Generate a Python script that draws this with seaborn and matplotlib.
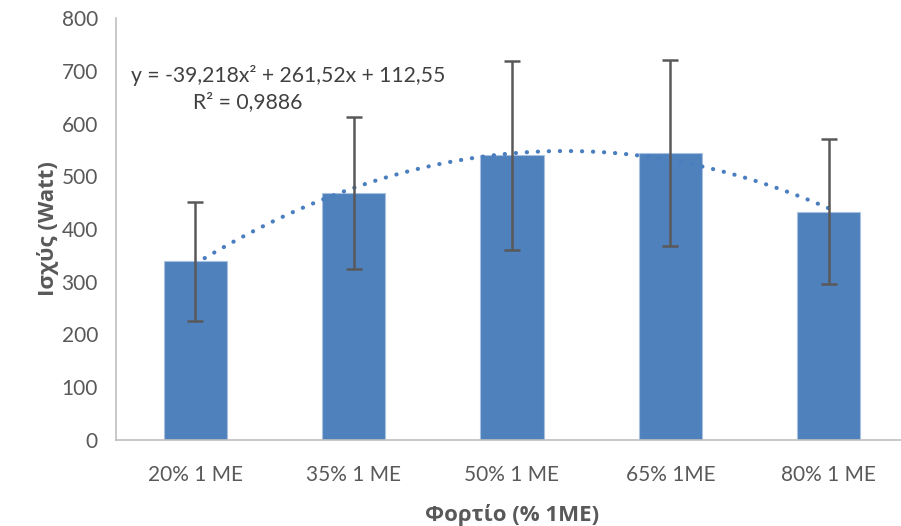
import numpy as np
import pandas as pd
import matplotlib
matplotlib.use("Agg")
import matplotlib.pyplot as plt
import seaborn as sns

categories = ["20% 1 ΜΕ", "35% 1 ΜΕ", "50% 1 ΜΕ", "65% 1ΜΕ", "80% 1 ΜΕ"]
power = [339, 469, 540, 544, 433]
err = [113, 144, 179, 176, 138]
eq_text = "y = -39,218x² + 261,52x + 112,55"
r2_text = "R² = 0,9886"

sns.set_theme(style="white")
plt.rcParams["font.family"] = ["Lato", "DejaVu Sans"]

df = pd.DataFrame({"cat": categories, "power": power, "err": err})

fig = plt.figure(figsize=(9.01, 5.26), dpi=100)
ax = fig.add_axes([116 / 901, 1 - 440 / 526, (908 - 116) / 901, (440 - 18) / 526])

sns.barplot(data=df, x="cat", y="power", color="#4F81BD", saturation=1,
            width=0.40, edgecolor="#A9C1E0", linewidth=0.8, ax=ax, errorbar=None)
ax.errorbar(np.arange(len(power)), power, yerr=err, fmt="none",
            ecolor="#595959", elinewidth=1.8, capsize=6, capthick=1.8, zorder=5)

# quadratic trendline fitted to the bar values
xs = np.arange(1, len(power) + 1)
coef = np.polyfit(xs, power, 2)
xf = np.linspace(1, len(power), 300)
ax.plot(xf - 1, np.polyval(coef, xf), linestyle=(0, (0.05, 2.6)), color="#4A7EBF",
        linewidth=3.0, dash_capstyle="round", solid_capstyle="round", zorder=4)

ax.set_ylim(0, 800)
ax.set_xlim(-0.5, 4.5)
ax.set_yticks(range(0, 801, 100))
ax.tick_params(axis="y", length=0, labelsize=15, labelcolor="#595959", pad=13)
ax.tick_params(axis="x", length=10, direction="inout", color="#BFBFBF", width=1,
               labelsize=15, labelcolor="#595959", pad=13)
for s in ["top", "right"]:
    ax.spines[s].set_visible(False)
for s in ["left", "bottom"]:
    ax.spines[s].set_color("#BFBFBF")
    ax.spines[s].set_linewidth(1.2)

lab_font = dict(fontsize=16, fontweight="bold", color="#595959",
                family=["Open Sans", "DejaVu Sans"])
ax.set_xlabel("Φορτίο (% 1ΜΕ)", labelpad=14, **lab_font)
ax.set_ylabel("Ισχύς (Watt)", labelpad=2, **lab_font)

fig.text(131 / 901, 1 - 75 / 526, eq_text, fontsize=15.2, color="#404040", va="center", ha="left")
fig.text(302 / 901, 1 - 102 / 526, r2_text, fontsize=15.2, color="#404040", va="center", ha="right")

fig.savefig("out.png", dpi=100)
